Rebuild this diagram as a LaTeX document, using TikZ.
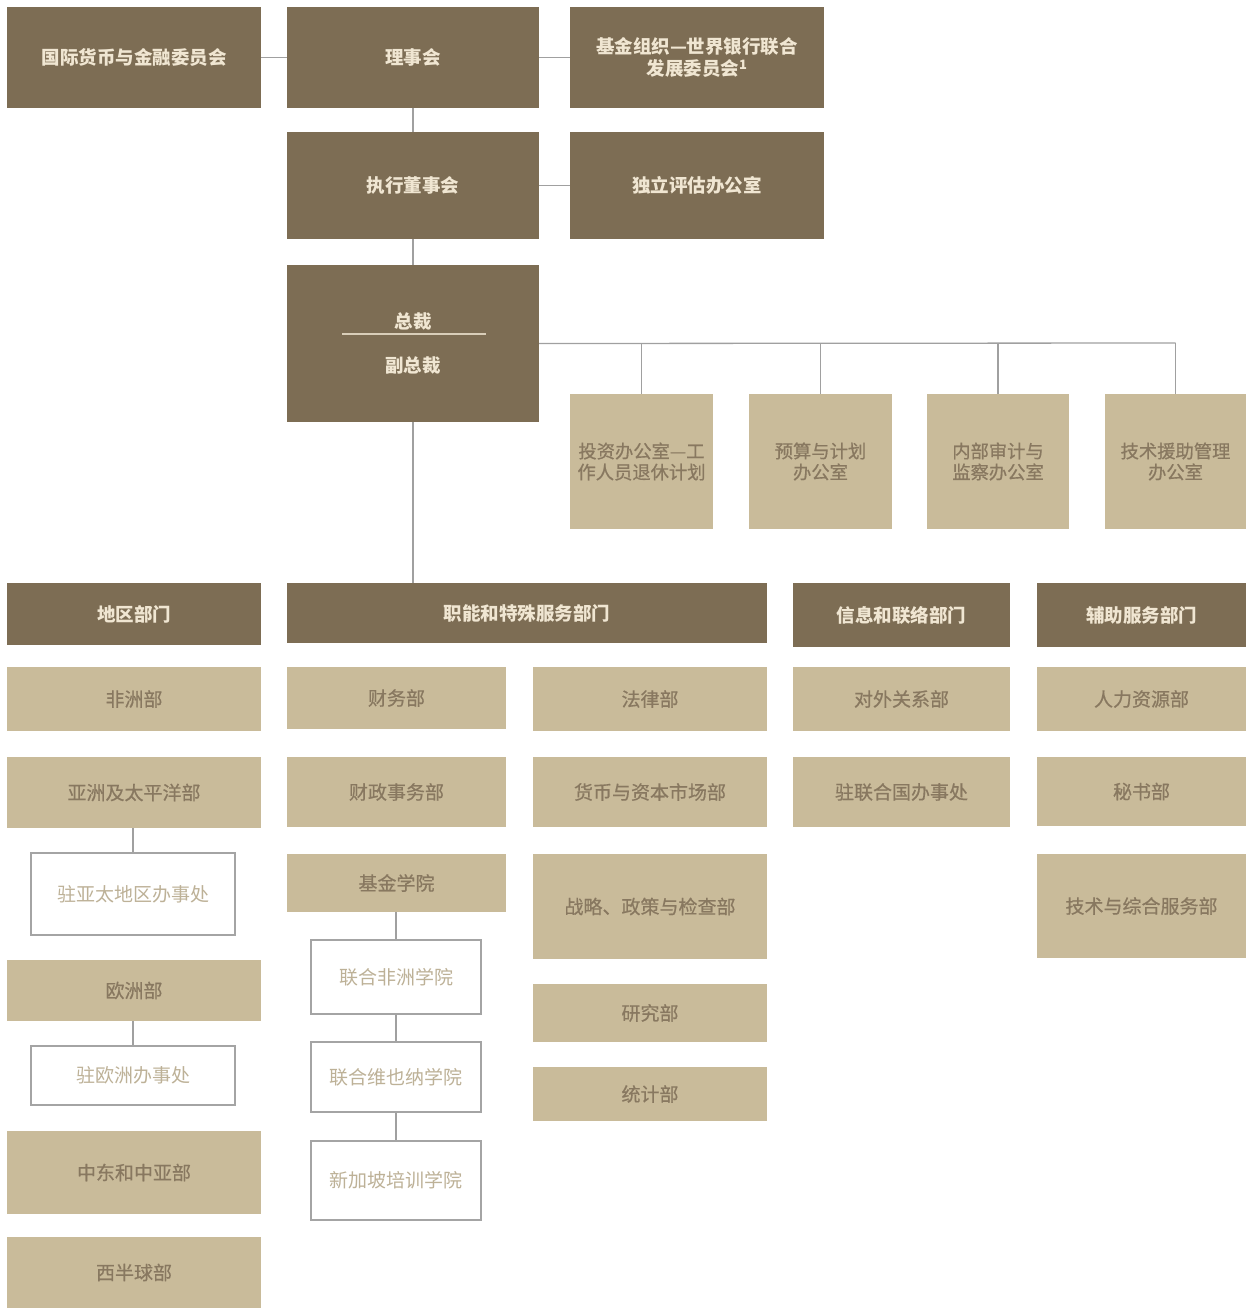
\documentclass[tikz,border=0pt]{standalone}
\usepackage{fontspec}
\setmainfont{Noto Sans CJK SC}
\newfontfamily\medfont[FakeBold=0.6]{Noto Sans CJK SC}
\definecolor{darkbox}{HTML}{7D6D54}
\definecolor{lightbox}{HTML}{C9BB9A}
\definecolor{lighttext}{HTML}{887860}
\definecolor{darktext}{HTML}{F0E6D2}
\definecolor{wtext}{HTML}{BDB197}
\definecolor{wline}{HTML}{A4A4A4}
\definecolor{conn}{HTML}{A0A0A0}
\tikzset{
  base/.style={rectangle, inner sep=0pt, align=center, font=\fontsize{19}{22}\selectfont},
  darkb/.style={base, fill=darkbox, text=darktext, font=\fontsize{18.5}{21.5}\selectfont\bfseries},
  lightb/.style={base, fill=lightbox, text=lighttext, font=\fontsize{19}{21.5}\selectfont\medfont},
  whiteb/.style={base, fill=white, draw=wline, line width=1.2pt, text=wtext, font=\fontsize{19}{22}\selectfont},
  conline/.style={draw=conn, line width=1.3pt},
  sz/.style 2 args={minimum width=#1pt, minimum height=#2pt}
}
\begin{document}
\begin{tikzpicture}[x=1pt, y=-1pt]
\useasboundingbox[fill=white] (0,0) rectangle (1246,1308);
% top
\node[darkb, sz={254}{101}] (imfc) at (134,57.5) {国际货币与金融委员会};
\node[darkb, sz={252}{101}] (board) at (413,57.5) {理事会};
\node[darkb, sz={254}{101}] (devc) at (697,57.5) {基金组织—世界银行联合\\发展委员会\textsuperscript{1}};
\node[darkb, sz={252}{107}] (exec) at (413,185.5) {执行董事会};
\node[darkb, sz={254}{107}] (ieo) at (697,185.5) {独立评估办公室};
\node[darkb, sz={252}{157}] (md) at (413,343.5) {};
\node[text=darktext, font=\fontsize{18.5}{21}\selectfont\bfseries, inner sep=0pt] (mdt1) at (413,321) {总裁};
\node[text=darktext, font=\fontsize{18.5}{21}\selectfont\bfseries, inner sep=0pt] (mdt2) at (413,365) {副总裁};
\draw[draw=darktext!80!darkbox, line width=1.2pt] (342,334) -- (486,334);
% offices
\node[lightb, sz={143}{135}, font=\fontsize{18.3}{21}\selectfont\medfont] (o1) at (641.5,461.5) {投资办公室—工\\作人员退休计划};
\node[lightb, sz={143}{135}, font=\fontsize{18.3}{21}\selectfont\medfont] (o2) at (820.5,461.5) {预算与计划\\办公室};
\node[lightb, sz={142}{135}, font=\fontsize{18.3}{21}\selectfont\medfont] (o3) at (998,461.5) {内部审计与\\监察办公室};
\node[lightb, sz={141}{135}, font=\fontsize{18.3}{21}\selectfont\medfont] (o4) at (1175.5,461.5) {技术援助管理\\办公室};
% headers
\node[darkb, sz={254}{62}] (h1) at (134,614) {地区部门};
\node[darkb, sz={480}{60}] (h2) at (527,613) {职能和特殊服务部门};
\node[darkb, sz={217}{64}] (h3) at (901.5,615) {信息和联络部门};
\node[darkb, sz={209}{64}] (h4) at (1141.5,615) {辅助服务部门};
% column 1
\node[lightb, sz={254}{64}] (c1a) at (134,699) {非洲部};
\node[lightb, sz={254}{71}] (c1b) at (134,792.5) {亚洲及太平洋部};
\node[whiteb, sz={204}{82}] (c1c) at (133,894) {驻亚太地区办事处};
\node[lightb, sz={254}{61}] (c1d) at (134,990.5) {欧洲部};
\node[whiteb, sz={204}{59}] (c1e) at (133,1075.5) {驻欧洲办事处};
\node[lightb, sz={254}{83}] (c1f) at (134,1172.5) {中东和中亚部};
\node[lightb, sz={254}{71}] (c1g) at (134,1272.5) {西半球部};
% column 2a
\node[lightb, sz={219}{62}] (c2a) at (396.5,698) {财务部};
\node[lightb, sz={219}{70}] (c2b) at (396.5,792) {财政事务部};
\node[lightb, sz={219}{58}] (c2c) at (396.5,883) {基金学院};
\node[whiteb, sz={170}{74}] (c2d) at (396,977) {联合非洲学院};
\node[whiteb, sz={170}{70}] (c2e) at (396,1077) {联合维也纳学院};
\node[whiteb, sz={170}{79}] (c2f) at (396,1180.5) {新加坡培训学院};
% column 2b
\node[lightb, sz={234}{64}] (c3a) at (650,699) {法律部};
\node[lightb, sz={234}{70}] (c3b) at (650,792) {货币与资本市场部};
\node[lightb, sz={234}{105}] (c3c) at (650,906.5) {战略、政策与检查部};
\node[lightb, sz={234}{58}] (c3d) at (650,1013) {研究部};
\node[lightb, sz={234}{54}] (c3e) at (650,1094) {统计部};
% column 3
\node[lightb, sz={217}{64}] (c4a) at (901.5,699) {对外关系部};
\node[lightb, sz={217}{70}] (c4b) at (901.5,792) {驻联合国办事处};
% column 4
\node[lightb, sz={209}{64}] (c5a) at (1141.5,699) {人力资源部};
\node[lightb, sz={209}{69}] (c5b) at (1141.5,791.5) {秘书部};
\node[lightb, sz={209}{104}] (c5c) at (1141.5,906) {技术与综合服务部};
% connectors
\draw[conline] (imfc.east) -- (board.west);
\draw[conline] (board.east) -- (devc.west);
\draw[conline] (board.south) -- (exec.north);
\draw[conline] (exec.east) -- (ieo.west);
\draw[conline] (exec.south) -- (md.north);
\draw[conline] (md.south) -- (md.south |- h2.north);
\coordinate (bar) at (1175.5,343);
\draw[conline] (md.east) -- (bar);
\draw[conline] (o1.north |- bar) -- (o1.north);
\draw[conline] (o2.north |- bar) -- (o2.north);
\draw[conline] (o3.north |- bar) -- (o3.north);
\draw[conline] (bar) -- (o4.north);
\draw[conline] (c1b.south) -- (c1b.south -| c1c.north) -- (c1c.north);
\draw[conline] (c1d.south -| c1e.north) -- (c1e.north);
\draw[conline] (c2c.south -| c2d.north) -- (c2d.north);
\draw[conline] (c2d.south) -- (c2e.north);
\draw[conline] (c2e.south) -- (c2f.north);
\end{tikzpicture}
\end{document}
